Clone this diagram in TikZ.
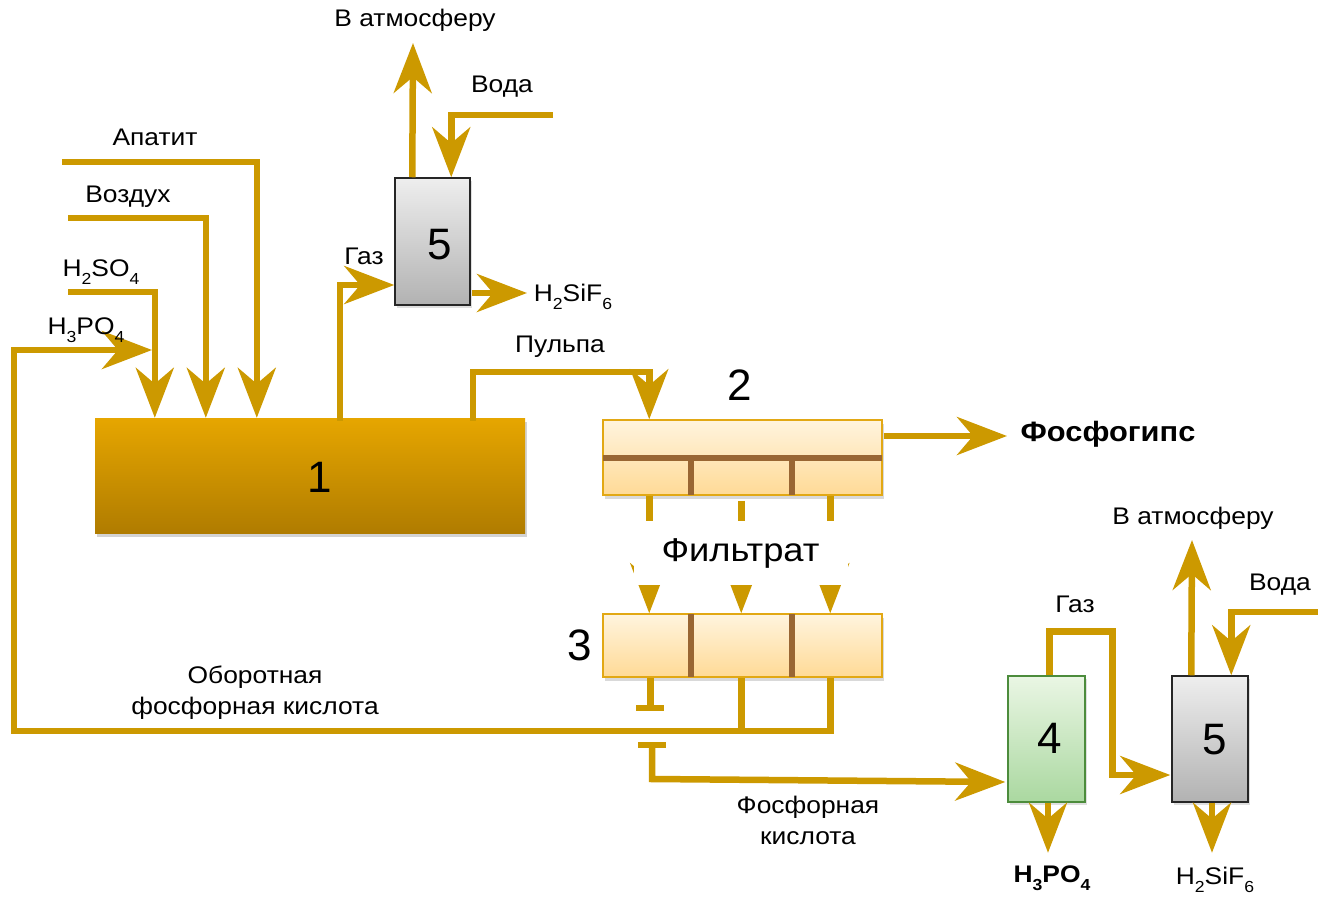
\documentclass[tikz,border=0pt]{standalone}
\usepackage{fontspec}
\setmainfont{Liberation Sans}[FakeStretch=1.1]
\newfontfamily\plainfont{Liberation Sans}
\usetikzlibrary{arrows.meta,calc,shadows}
\definecolor{gold}{RGB}{204,153,0}
\definecolor{boxtop}{RGB}{230,166,0}
\definecolor{boxbot}{RGB}{176,124,0}
\definecolor{filtop}{RGB}{255,244,222}
\definecolor{filbot}{RGB}{255,218,150}
\definecolor{filbrd}{RGB}{226,168,20}
\definecolor{bar}{RGB}{153,102,51}
\definecolor{grtop}{RGB}{234,246,228}
\definecolor{grbot}{RGB}{170,216,160}
\definecolor{grbrd}{RGB}{76,140,60}
\definecolor{gytop}{RGB}{238,238,238}
\definecolor{gybot}{RGB}{178,178,178}
\newcommand\lowsub[1]{\raisebox{-0.32em}{\fontsize{16}{16}\selectfont #1}}
\tikzset{
  line/.style={draw=gold,line width=6.5pt},
  flow/.style={line,-{Stealth[length=50pt,width=38pt,inset=16pt]}},
  lbl/.style={inner sep=0pt,font=\fontsize{24}{28}\selectfont},
  num/.style={inner sep=0pt,font=\plainfont\fontsize{44}{50}\selectfont},
  reactor/.style={inner sep=0pt,top color=boxtop,bottom color=boxbot,draw=none,
    drop shadow={opacity=0.35,shadow xshift=2pt,shadow yshift=-4pt}},
  filterbox/.style={inner sep=0pt,top color=filtop,bottom color=filbot,draw=filbrd,line width=1.5pt,
    drop shadow={opacity=0.3,shadow xshift=2pt,shadow yshift=-4pt}},
  graybox/.style={inner sep=0pt,top color=gytop,bottom color=gybot,draw=black!85,line width=1.5pt,
    drop shadow={opacity=0.25,shadow xshift=2pt,shadow yshift=-3pt}},
  greenbox/.style={inner sep=0pt,top color=grtop,bottom color=grbot,draw=grbrd,line width=1.5pt,
    drop shadow={opacity=0.25,shadow xshift=2pt,shadow yshift=-3pt}},
  barline/.style={draw=bar,line width=6pt},
}
\begin{document}
\begin{tikzpicture}[x=1pt,y=-1pt]
\useasboundingbox (0,0) rectangle (1318,897);
% boxes
\node[reactor,minimum width=430pt,minimum height=115pt] (b1) at (310,475.5) {};
\node[graybox,minimum width=75pt,minimum height=127pt] (b5) at (432.5,241.5) {};
\node[filterbox,minimum width=279pt,minimum height=75pt] (b2) at (742.5,457.5) {};
\node[filterbox,minimum width=279pt,minimum height=63pt] (b3) at (742.5,645.5) {};
\node[greenbox,minimum width=77pt,minimum height=126pt] (b4) at (1046.5,739) {};
\node[graybox,minimum width=76pt,minimum height=126pt] (b5r) at (1210,739) {};
% filter internals
\draw[barline] ($(b2.west)+(1,0)$) coordinate (b2l) -- ($(b2.east)+(-1,0)$) coordinate (b2r);
\draw[barline] ($(b2.south west)+(89,-1)$) coordinate (d1b) -- ($(b2.west)+(89,0)$) coordinate (d1t);
\draw[barline] ($(b2.south west)+(190,-1)$) coordinate (d2b) -- ($(b2.west)+(190,0)$) coordinate (d2t);
\draw[barline] ($(b3.south west)+(89,-1)$) coordinate (d3b) -- ($(b3.north west)+(89,1)$) coordinate (d3t);
\draw[barline] ($(b3.south west)+(190,-1)$) coordinate (d4b) -- ($(b3.north west)+(190,1)$) coordinate (d4t);
% numbers
\node[num] (n1) at (320,477) {1};
\node[num] (n2) at (740,385) {2};
\node[num] (n3) at (580,645) {3};
\node[num] (n4) at (1050,738) {4};
\node[num] (n5) at (440,245) {5};
\node[num] (n5r) at (1215,740) {5};
% inputs to reactor
\coordinate (apS) at (62,162);
\coordinate (vzS) at (68,218);
\coordinate (hsS) at (68,292);
\draw[flow] (apS) -| ($(b1.north west)+(162,0)$);
\draw[flow] (vzS) -| ($(b1.north west)+(111,0)$);
\draw[flow] (hsS) -| ($(b1.north west)+(60,0)$);
% gas to scrubber
\draw[flow] ($(b1.north west)+(245,3)$) |- ($(b5.west)+(0,43.5)$);
\coordinate (atmT) at (413,43);
\draw[flow] ($(b5.north west)+(18,0)$) -- (atmT);
\coordinate (vodaS) at (553,115);
\draw[flow] (vodaS) -| ($(b5.north west)+(57,0)$);
\coordinate (hsfT) at (527,293);
\draw[flow] ($(b5.east)+(1,51.5)$) -- (hsfT);
% pulp
\draw[flow] ($(b1.north west)+(378,3)$) -- ++(0,-49) -| ($(b2.north west)+(47,0)$);
% phosphogypsum
\coordinate (fgT) at (1007,436);
\draw[flow] ($(b2.east)+(1,-21.5)$) -- (fgT);
% filtrate
\draw[flow] ($(b2.south west)+(47,0)$) -- ($(b3.north west)+(47,0)$);
\draw[flow] ($(b2.south west)+(139,5)$) -- ($(b3.north west)+(139,0)$);
\draw[flow] ($(b2.south west)+(228,0)$) -- ($(b3.north west)+(228,0)$);
\node[lbl,fill=white,minimum width=214pt,minimum height=64pt,font=\fontsize{33}{37}\selectfont] (filt) at (740.5,553) {Фильтрат};
% recycle acid
\coordinate (recA) at (14,731);
\coordinate (recT) at (152,350);
\draw[line] ($(b3.south west)+(139,0)$) -- ($(b3.south west)+(139,54)$) coordinate (m1);
\draw[flow] ($(b3.south west)+(228,0)$) |- (recA) -- (14,350) -- (recT);
% valve stubs
\draw[line] ($(b3.south west)+(48,0)$) -- ($(b3.south west)+(48,30)$) coordinate (v1);
\draw[line] ($(v1)+(-14,0)$) -- ($(v1)+(14,0)$);
\coordinate (v2) at (652,745);
\draw[line] ($(v2)+(-14,0)$) -- ($(v2)+(14,0)$);
\draw[flow] (v2) -- (652,779) -- ($(b4.west)+(-2,43)$);
% evaporator 4
\draw[flow] ($(b4.north west)+(42,0)$) -- ++(0,-44) -- ++(63,0) |- ($(b5r.west)+(-1,36)$);
\draw[flow] ($(b4.south)+(1.5,0)$) -- ++(0,50) coordinate (h3T);
\draw[flow] ($(b5r.south)+(2,0)$) -- ++(0,50) coordinate (hsf2T);
\coordinate (atm2T) at (1192,540);
\draw[flow] ($(b5r.north west)+(20,0)$) -- (atm2T);
\coordinate (voda2S) at (1318,612);
\draw[flow] (voda2S) -| ($(b5r.north west)+(60,0)$);
% labels
\node[lbl] (l1) at (415,20) {В атмосферу};
\node[lbl] (l2) at (502,87) {Вода};
\node[lbl] (l3) at (155,137) {Апатит};
\node[lbl] (l4) at (128,197) {Воздух};
\node[lbl] (l5) at (101,272) {H\lowsub{2}SO\lowsub{4}};
\node[lbl] (l6) at (86,330) {H\lowsub{3}PO\lowsub{4}};
\node[lbl] (l7) at (364,256) {Газ};
\node[lbl] (l8) at (573,297) {H\lowsub{2}SiF\lowsub{6}};
\node[lbl] (l9) at (560,347) {Пульпа};
\node[lbl,font=\fontsize{28}{32}\selectfont\bfseries] (l10) at (1108,434) {Фосфогипс};
\node[lbl,align=center,font=\fontsize{24}{31}\selectfont] (l11) at (255,693) {Оборотная\\фосфорная кислота};
\node[lbl,align=center,font=\fontsize{24}{31}\selectfont] (l12) at (808,820) {Фосфорная\\кислота};
\node[lbl] (l13) at (1193,518) {В атмосферу};
\node[lbl] (l14) at (1075,604) {Газ};
\node[lbl] (l15) at (1280,585) {Вода};
\node[lbl,font=\fontsize{24}{28}\selectfont\bfseries] (l16) at (1052,878) {H\lowsub{3}PO\lowsub{4}};
\node[lbl] (l17) at (1215,880) {H\lowsub{2}SiF\lowsub{6}};
\end{tikzpicture}
\end{document}
